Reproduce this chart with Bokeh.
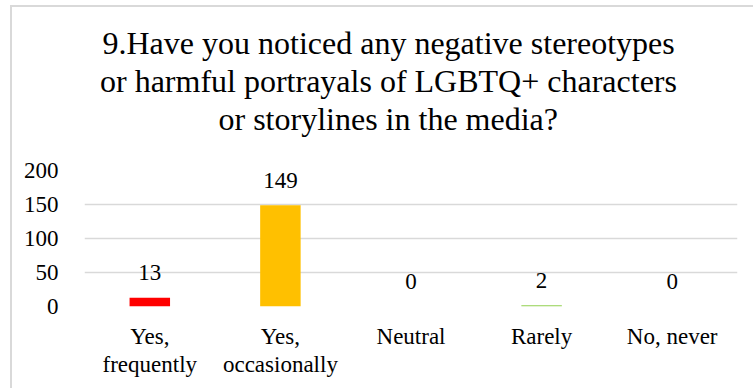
from bokeh.plotting import figure
from bokeh.models import ColumnDataSource, Range1d, LabelSet, FactorRange, Title
from bokeh.embed import file_html
from bokeh.resources import INLINE

categories = ["Yes,\nfrequently", "Yes,\noccasionally", "Neutral", "Rarely", "No, never"]
counts = [13, 149, 0, 2, 0]
colors = ["#ff0000", "#ffc000", "#a5a5a5", "#92d050", "#5b9bd5"]
y_ticks = [0, 50, 100, 150, 200]
title_lines = ["9.Have you noticed any negative stereotypes",
               "or harmful portrayals of LGBTQ+ characters",
               "or storylines in the media?"]

FONT = "Liberation Serif"

src = ColumnDataSource(dict(cat=categories, val=counts, color=colors,
                            lbl=[str(v) for v in counts]))

p = figure(x_range=FactorRange(*categories), y_range=Range1d(0, 200),
           width=743, height=383, output_backend="svg", toolbar_location=None,
           title=title_lines[0],
           min_border_left=72, min_border_right=18, min_border_top=163, min_border_bottom=84,
           styles={"margin-left": "10px", "margin-top": "5px",
                   "border-left": "2px solid #d9d9d9", "border-top": "2px solid #d9d9d9"})

def style_title(t, offset, size="32px"):
    t.text_font = FONT
    t.text_font_size = size
    t.text_font_style = "normal"
    t.align = "left"
    t.offset = offset
    t.text_color = "#000000"
    t.standoff = 0

# title lines left-aligned with offsets so that they are centred on the chart box
style_title(p.title, 18)
# panels in "above" stack outward from the frame: first added is closest
spacer = Title(text=" ")
style_title(spacer, 0, "29px")
p.add_layout(spacer, "above")
for line, off in [(title_lines[2], 134), (title_lines[1], 15.5)]:
    t = Title(text=line)
    style_title(t, off)
    p.add_layout(t, "above")

p.vbar(x="cat", top="val", width=0.31, fill_color="color", line_color=None, source=src)

labels = LabelSet(x="cat", y="val", text="lbl", source=src, text_align="center",
                  text_baseline="middle", y_offset=25, text_font=FONT,
                  text_font_size="23px", text_color="#000000")
p.add_layout(labels)

p.outline_line_color = None
p.xgrid.grid_line_color = None
p.ygrid.grid_line_color = "#d9d9d9"
p.ygrid.grid_line_width = 1.5
p.yaxis.ticker = y_ticks
p.yaxis.axis_line_color = None
p.yaxis.major_tick_line_color = None
p.yaxis.minor_tick_line_color = None
p.yaxis.major_label_text_font = FONT
p.yaxis.major_label_text_font_size = "23px"
p.yaxis.major_label_text_color = "#000000"
p.yaxis.major_label_standoff = 20

p.xaxis.axis_line_color = None
p.xaxis.major_tick_line_color = None
p.xaxis.major_label_text_font = FONT
p.xaxis.major_label_text_font_size = "23px"
p.xaxis.major_label_text_color = "#000000"
p.xaxis.major_label_standoff = 11
p.xaxis.major_label_text_line_height = 1.15

open("out.html", "w").write(file_html(p, INLINE))
